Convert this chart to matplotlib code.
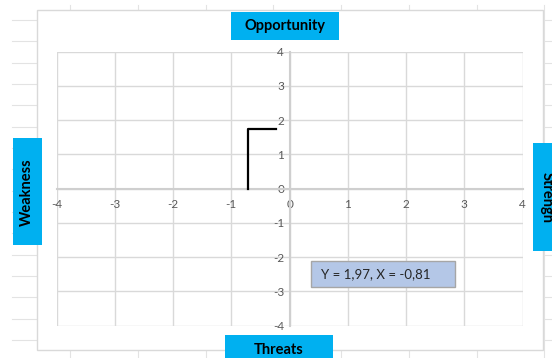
import matplotlib
matplotlib.use("Agg")
import matplotlib.pyplot as plt
from matplotlib.patches import Rectangle
from matplotlib.lines import Line2D

plt.rcParams['font.family'] = ['Lato', 'DejaVu Sans']
plt.rcParams['axes.unicode_minus'] = False

# ---- data ----
line_x = [-0.71, -0.71, -0.23]
line_y = [0.0, 1.74, 1.74]
x_ticks = [-4, -3, -2, -1, 0, 1, 2, 3, 4]
y_ticks = [-4, -3, -2, -1, 0, 1, 2, 3, 4]
label_top = "Opportunity"
label_left = "Weakness"
label_right = "Strengh"
label_bottom = "Threats"
annotation_text = "Y = 1,97, X = -0,81"

W, H = 552, 358
fig = plt.figure(figsize=(W / 100, H / 100), dpi=100)


def fx(x):
    return x / W


def fy(y):
    return 1 - y / H


cell_col = '#e3e3e3'
# spreadsheet cell lines behind the chart
for k in range(16):
    yy = 20 + 21.33 * k
    fig.add_artist(Line2D([fx(12), fx(W)], [fy(yy), fy(yy)], color=cell_col, lw=0.8, zorder=0))
for k in range(8):
    xx = 70.3 + 67.7 * k
    fig.add_artist(Line2D([fx(xx), fx(xx)], [fy(5), fy(H)], color=cell_col, lw=0.8, zorder=0))

# chart area
fig.add_artist(Rectangle((fx(37), fy(350)), fx(543) - fx(37), fy(10) - fy(350),
                         transform=fig.transFigure, facecolor='white',
                         edgecolor='#d9d9d9', lw=1.0, zorder=1))

# plot area
ax = fig.add_axes([fx(56.7), fy(325.7), fx(522.5) - fx(56.7), fy(51.7) - fy(325.7)])
ax.set_zorder(2)
ax.patch.set_alpha(0)
ax.set_xlim(-4, 4)
ax.set_ylim(-4, 4)
ax.set_xticks(x_ticks)
ax.set_yticks(y_ticks)
ax.set_xticklabels([str(t) for t in x_ticks])
ax.set_yticklabels([str(t) for t in y_ticks])
ax.grid(True, color='#d9d9d9', lw=1.0)
ax.set_axisbelow(True)
for gl in ax.get_xgridlines() + ax.get_ygridlines():
    gl.set_clip_on(False)
ax.spines['top'].set_visible(False)
ax.spines['right'].set_visible(False)
ax.spines['left'].set_position('zero')
ax.spines['bottom'].set_position('zero')
for s in ('left', 'bottom'):
    ax.spines[s].set_color('#cfcfcf')
    ax.spines[s].set_linewidth(1.5)
ax.tick_params(axis='both', length=0, colors='#595959', labelsize=8.5)
ax.tick_params(axis='x', pad=7.5)
ax.tick_params(axis='y', pad=4)

ax.plot(line_x, line_y, color='black', lw=1.6, zorder=5, clip_on=False)

blue = '#00B0F0'


def box(x0, y0, x1, y1, text, rot=0, tx=None, ty=None, size=10.5, weight='bold',
        fc=blue, ec='none', color='black', ha='center'):
    fig.add_artist(Rectangle((fx(x0), fy(y1)), fx(x1) - fx(x0), fy(y0) - fy(y1),
                             transform=fig.transFigure, facecolor=fc, edgecolor=ec,
                             lw=1.0, zorder=3))
    if tx is None:
        tx = (x0 + x1) / 2
    if ty is None:
        ty = (y0 + y1) / 2
    fig.text(fx(tx), fy(ty), text, rotation=rot, ha=ha, va='center',
             fontsize=size, fontweight=weight, color=color, zorder=4)


box(231, 11.7, 339.3, 40, label_top)
box(13, 138.3, 41.7, 245.3, label_left, rot=90)
box(533.3, 143.3, 560, 250.7, label_right, rot=270, tx=546.5, ty=197)
box(225, 335, 332.7, 370, label_bottom, tx=279, ty=350)

box(310.7, 261, 455, 287, annotation_text, tx=321, ty=274, size=9.5,
    weight='normal', fc='#B4C7E7', ec='#a6a6a6', color='#262626', ha='left')

fig.savefig('out.png', dpi=100)
